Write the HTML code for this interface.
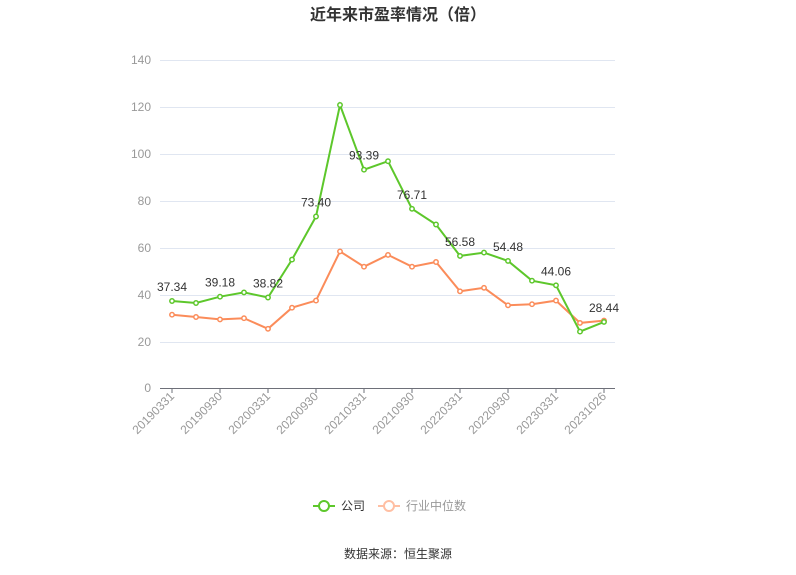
<!DOCTYPE html>
<html><head><meta charset="utf-8"><style>
body{margin:0;background:#fff;}
svg{display:block;font-family:"Liberation Sans","Noto Sans CJK SC",sans-serif;}
</style></head><body>
<svg width="796" height="575" viewBox="0 0 796 575" xmlns="http://www.w3.org/2000/svg">
<text x="398" y="20" text-anchor="middle" font-size="16" font-weight="bold" fill="#333">近年来市盈率情况（倍）</text>
<g stroke="#e0e6f1" stroke-width="1">
<line x1="160" y1="60.5" x2="615" y2="60.5"/>
<line x1="160" y1="107.5" x2="615" y2="107.5"/>
<line x1="160" y1="154.5" x2="615" y2="154.5"/>
<line x1="160" y1="201.5" x2="615" y2="201.5"/>
<line x1="160" y1="248.5" x2="615" y2="248.5"/>
<line x1="160" y1="295.5" x2="615" y2="295.5"/>
<line x1="160" y1="342.5" x2="615" y2="342.5"/>
</g>
<line x1="160" y1="388.5" x2="615" y2="388.5" stroke="#6e7079" stroke-width="1"/>
<g font-size="12" fill="#999" text-anchor="end">
<text x="151" y="64">140</text><text x="151" y="111">120</text><text x="151" y="158">100</text>
<text x="151" y="205">80</text><text x="151" y="252">60</text><text x="151" y="299">40</text>
<text x="151" y="346">20</text><text x="151" y="392">0</text>
</g>
<g id="ticks"></g>
<g id="series"></g>
<g transform="translate(313,506)">
<line x1="0" y1="0" x2="22" y2="0" stroke="#5dc72b" stroke-width="2"/>
<circle cx="11" cy="0" r="5" fill="#fff" stroke="#5dc72b" stroke-width="2"/>
<text x="28" y="4" font-size="12" fill="#333">公司</text>
<line x1="65" y1="0" x2="87" y2="0" stroke="#ffbfa3" stroke-width="2"/>
<circle cx="76" cy="0" r="5" fill="#fff" stroke="#ffbfa3" stroke-width="2"/>
<text x="93" y="4" font-size="12" fill="#999">行业中位数</text>
</g>
<text x="398" y="558" text-anchor="middle" font-size="12" fill="#333">数据来源：恒生聚源</text>
</svg>
<script>
var g=[37.34,36.5,39.18,41,38.82,55,73.4,121,93.39,97,76.71,70,56.58,58,54.48,46,44.06,24.3,28.44];
var o=[31.5,30.5,29.5,30,25.5,34.5,37.5,58.5,52,57,52,54,41.5,43,35.5,36,37.5,28,29];
var lab={0:"37.34",2:"39.18",4:"38.82",6:"73.40",8:"93.39",10:"76.71",12:"56.58",14:"54.48",16:"44.06",18:"28.44"};
function X(i){return 172+i*24;} function Y(v){return 388.5-v*2.343;}
var s="";
function line(d,c){var p=d.map(function(v,i){return X(i)+","+Y(v).toFixed(1)}).join(" ");
s+='<polyline points="'+p+'" fill="none" stroke="'+c+'" stroke-width="2"/>';
d.forEach(function(v,i){s+='<circle cx="'+X(i)+'" cy="'+Y(v).toFixed(1)+'" r="2.2" fill="#fff" stroke="'+c+'" stroke-width="1.5"/>';});}
line(o,"#fb8c5a");line(g,"#5dc72b");
for(var k in lab){s+='<text x="'+X(+k)+'" y="'+(Y(g[k])-10).toFixed(1)+'" text-anchor="middle" font-size="12" fill="#333">'+lab[k]+'</text>';}
document.getElementById("series").innerHTML=s;
var t="";var L=["20190331","20190930","20200331","20200930","20210331","20210930","20220331","20220930","20230331","20231026"];
L.forEach(function(l,j){var x=X(j*2);t+='<line x1="'+x+'" y1="388" x2="'+x+'" y2="393" stroke="#6e7079"/>';
t+='<text transform="translate('+(x+3)+',397) rotate(-45)" text-anchor="end" font-size="12" fill="#999">'+l+'</text>';});
document.getElementById("ticks").innerHTML=t;
</script>
</body></html>
